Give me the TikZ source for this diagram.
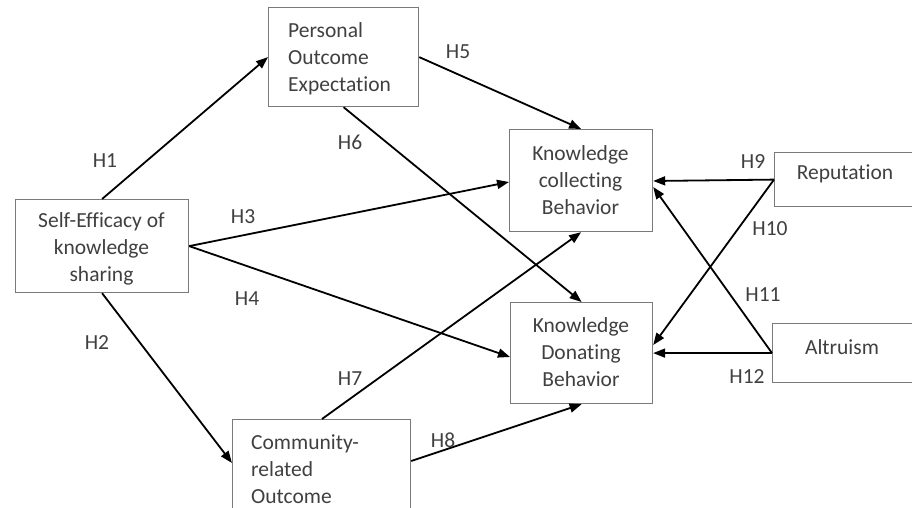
\documentclass[tikz,border=0pt]{standalone}
\usepackage{fontspec}
\setmainfont{Carlito}[RawFeature={-liga;-dlig;-clig}]
\usetikzlibrary{calc,arrows.meta}
\definecolor{txt}{HTML}{404040}
\definecolor{boxc}{HTML}{7A7A7A}
\begin{document}
\begin{tikzpicture}[x=1pt,y=-1pt,
  box/.style={draw=boxc,line width=1.2pt,anchor=north west,inner sep=0pt},
  txtnode/.style={text=txt,font=\fontsize{21.5}{26.8}\selectfont,inner sep=0pt,align=center},
  lbl/.style={text=txt,font=\fontsize{21.5}{26.8}\selectfont,inner sep=0pt},
  arr/.style={-{Triangle[length=12pt,width=9pt]},line width=1.8pt,black}]
\clip (0,0) rectangle (912,508);
\fill[white] (0,0) rectangle (912,508);
% boxes
\node[box,minimum width=173pt,minimum height=93pt] (se) at (15,199) {};
\node[box,minimum width=150pt,minimum height=99pt] (pe) at (268,7) {};
\node[box,minimum width=178pt,minimum height=130pt] (co) at (232,419) {};
\node[box,minimum width=143pt,minimum height=102pt] (kc) at (509,129) {};
\node[box,minimum width=142pt,minimum height=101pt] (kd) at (510,302) {};
\node[box,minimum width=170pt,minimum height=54pt] (rep) at (774,152) {};
\node[box,minimum width=170pt,minimum height=59pt] (alt) at (772,323) {};
% texts
\begin{scope}
\clip (15,199) rectangle (188,284);
\node[txtnode] (se-t) at (101.5,249) {Self-Efficacy of\\knowledge\\sharing};
\end{scope}
\node[txtnode,align=left,anchor=west] (pe-t) at (288,58.5) {Personal\\Outcome\\Expectation};
\node[txtnode,align=left,anchor=west] (co-t) at (251,469) {Community-\\related\\Outcome};
\node[txtnode] (kc-t) at (580.5,180) {Knowledge\\collecting\\Behavior};
\node[txtnode] (kd-t) at (581,352) {Knowledge\\Donating\\Behavior};
\node[txtnode] (rep-t) at (845,174) {Reputation};
\node[txtnode] (alt-t) at (842,347) {Altruism};
% connectors
\draw[arr] (se.north) -- (pe.west);
\draw[arr] (se.south) -- ($(co.north west)+(0,44)$);
\draw[arr] (se.east) -- ($(kc.north west)+(0,53)$);
\draw[arr] (se.east) -- ($(kd.north west)+(0,55)$);
\draw[arr] (pe.east) -- (kc.north);
\draw[arr] (pe.south) -- (kd.north);
\draw[arr] ($(co.north west)+(90,0)$) -- (kc.south);
\draw[arr] ($(co.north east)+(0,42)$) -- (kd.south);
\draw[arr] (rep.west) -- ($(kc.north east)+(0,52)$);
\draw[arr] (rep.west) -- ($(kd.north east)+(0,43)$);
\draw[arr] (alt.west) -- ($(kc.north east)+(0,58)$);
\draw[arr] (alt.west) -- (kd.east);
% labels
\node[lbl] (h1) at (105,161) {H1};
\node[lbl] (h2) at (97,343) {H2};
\node[lbl] (h3) at (243,217) {H3};
\node[lbl] (h4) at (247,299) {H4};
\node[lbl] (h5) at (458,52) {H5};
\node[lbl] (h6) at (350,142) {H6};
\node[lbl] (h7) at (350,379) {H7};
\node[lbl] (h8) at (443,440) {H8};
\node[lbl] (h9) at (753,162) {H9};
\node[lbl] (h10) at (770,229) {H10};
\node[lbl] (h11) at (763,295) {H11};
\node[lbl] (h12) at (747,377) {H12};
\end{tikzpicture}
\end{document}
